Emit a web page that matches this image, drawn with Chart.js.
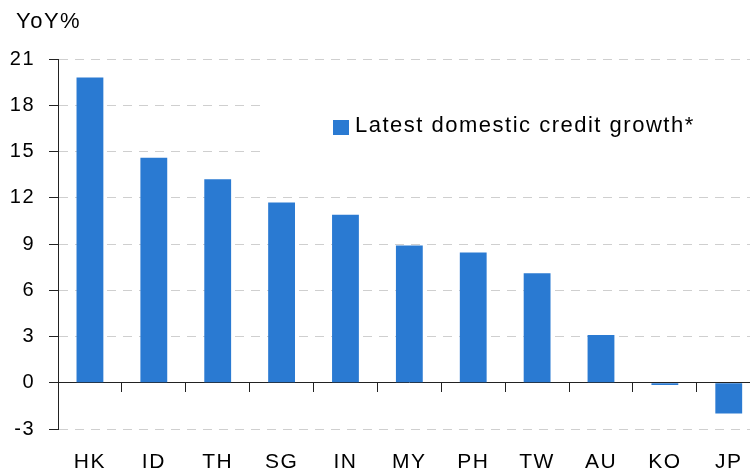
<!DOCTYPE html>
<html><head><meta charset="utf-8">
<script src="https://cdn.jsdelivr.net/npm/chart.js@4"></script>
<style>html,body{margin:0;padding:0;background:#fff;overflow:hidden}#wrap{width:750px;height:471px;overflow:hidden;position:relative}canvas{display:block}</style>
</head><body><div id="wrap"><canvas id="c" width="762" height="471"></canvas></div>
<script>
const categories = ['HK','ID','TH','SG','IN','MY','PH','TW','AU','KO','JP'];
const creditGrowth = [19.8, 14.6, 13.2, 11.7, 10.9, 8.9, 8.45, 7.1, 3.1, -0.15, -2.0];
const yTicks = [-3, 0, 3, 6, 9, 12, 15, 18, 21];
const seriesName = 'Latest domestic credit growth*';
const axisTitle = 'YoY%';

const barColor = '#2A7AD2';
const FONT = '"Liberation Sans", Arial, Helvetica, sans-serif';

const spacingPlugin = {
  id: 'spacing',
  beforeDraw(chart) { chart.ctx.letterSpacing = '1.5px'; }
};
const legendPlugin = {
  id: 'legendBox',
  beforeDatasetsDraw(chart) {
    const ctx = chart.ctx;
    ctx.save();
    ctx.fillStyle = '#fff';
    ctx.fillRect(263, 86, chart.width - 263, 84);
    ctx.fillStyle = barColor;
    ctx.fillRect(333, 120, 16, 15);
    ctx.fillStyle = '#000';
    ctx.font = '22px ' + FONT;
    ctx.textBaseline = 'alphabetic';
    ctx.textAlign = 'left';
    ctx.fillText(seriesName, 355, 132);
    ctx.fillText(axisTitle, 16, 28);
    ctx.restore();
  }
};

new Chart(document.getElementById('c'), {
  type: 'bar',
  data: {
    labels: categories,
    datasets: [{
      label: seriesName,
      data: creditGrowth,
      backgroundColor: barColor,
      borderWidth: 0,
      categoryPercentage: 1,
      barPercentage: 0.42
    }]
  },
  options: {
    responsive: false,
    animation: false,
    devicePixelRatio: 1,
    layout: { padding: { left: 0, top: 59, right: 0, bottom: 0 } },
    plugins: { legend: { display: false }, title: { display: false }, tooltip: { enabled: false } },
    scales: {
      x: {
        type: 'category',
        offset: true,
        grid: { display: false, drawTicks: false },
        border: { display: false },
        ticks: { color: '#000', padding: 21, font: { size: 21, family: FONT }, maxRotation: 0 },
        afterFit(s) { s.height = 42; }
      },
      x2: {
        type: 'category',
        position: { y: 0 },
        offset: true,
        grid: { offset: true, drawOnChartArea: false, drawTicks: true, tickLength: 9, tickColor: '#222', lineWidth: 1 },
        border: { display: true, color: '#222', width: 1 },
        ticks: { display: false }
      },
      y: {
        min: -3, max: 21,
        afterBuildTicks(s) { s.ticks = yTicks.map(v => ({ value: v })); },
        grid: {
          color: ctx => (ctx.tick && ctx.tick.value === 0) ? 'rgba(0,0,0,0)' : '#cfcfcf',
          lineWidth: 1,
          tickLength: 9,
          tickColor: '#222',
          tickBorderDash: []
        },
        border: { display: true, color: '#222', width: 1, dash: [9, 7] },
        ticks: { color: '#000', padding: 14, font: { size: 20, family: FONT } },
        afterFit(s) { s.width = 58; }
      }
    }
  },
  plugins: [spacingPlugin, legendPlugin]
});
</script>
</body></html>
